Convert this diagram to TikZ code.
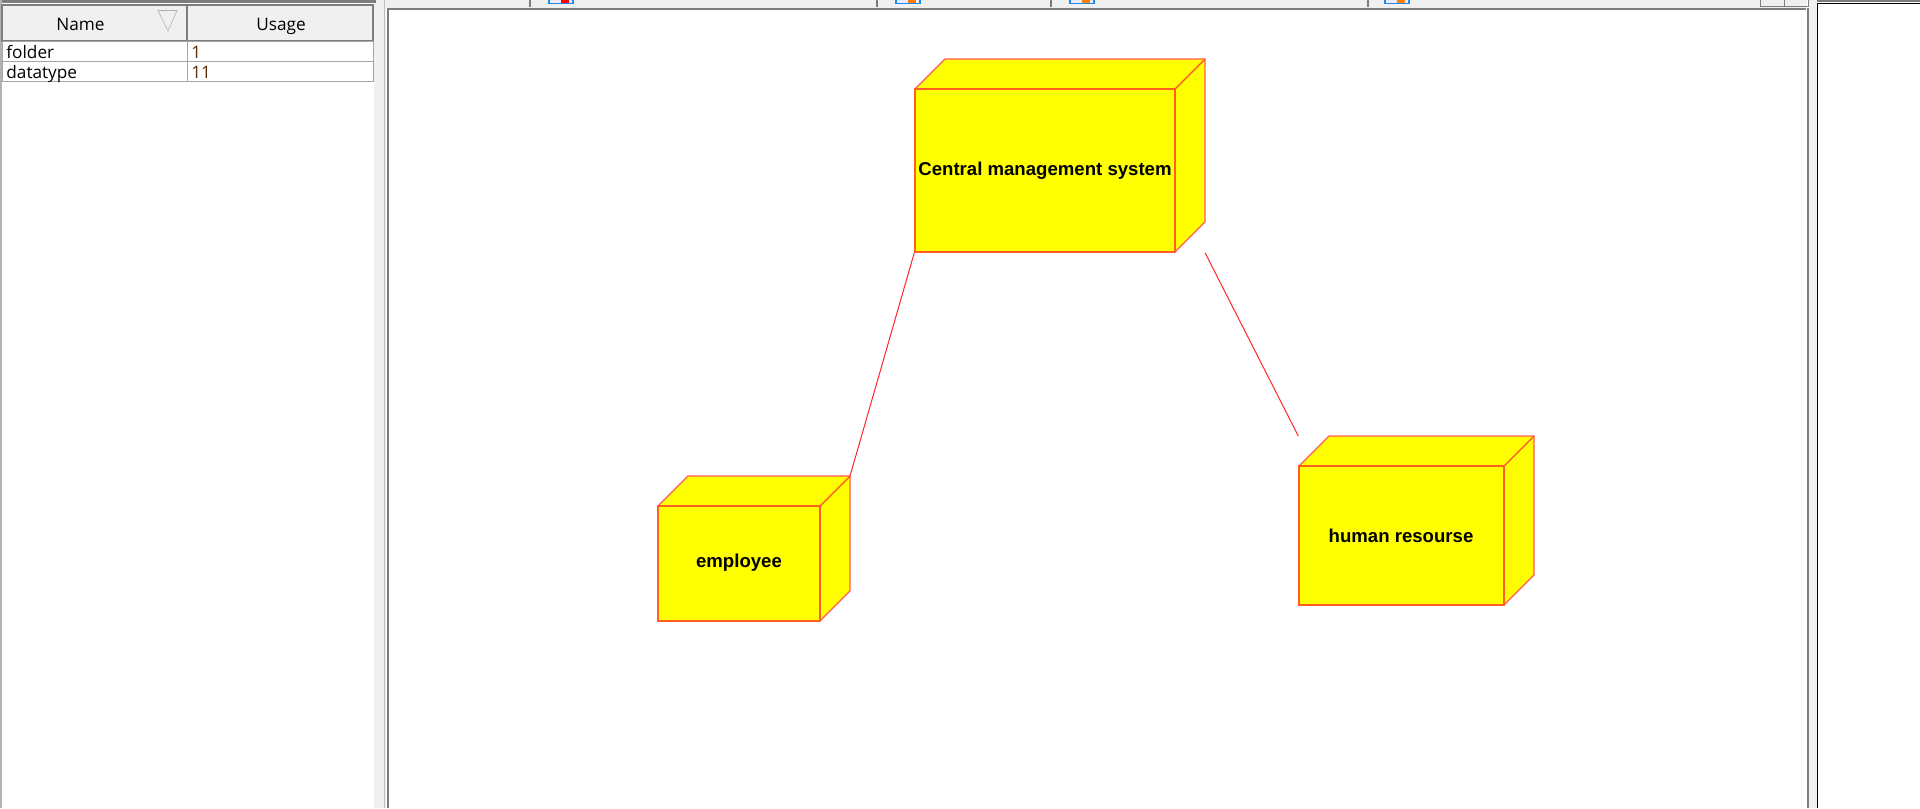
\documentclass[tikz,border=0pt]{standalone}
\usepackage{fontspec}
\setmainfont{Liberation Sans}
\newfontfamily\uifont{Open Sans}
\definecolor{nodered}{RGB}{255,40,40}
\definecolor{nodeorange}{RGB}{255,95,35}
\definecolor{nodecoral}{RGB}{255,90,90}
\definecolor{nodeyellow}{RGB}{255,255,0}
\definecolor{chromegray}{RGB}{240,240,240}
\definecolor{edgegray}{RGB}{125,125,125}
\definecolor{countbrown}{RGB}{90,45,10}
\definecolor{iconblue}{RGB}{30,140,230}
\tikzset{
  nodeface/.style={draw=nodeorange,fill=nodeyellow,line width=0.7pt,inner sep=0pt},
  nodeside/.style={draw=nodecoral,fill=nodeyellow,line width=0.6pt,line join=round},
  nodelink/.style={draw=nodered,line width=0.5pt},
  nodelabel/.style={font=\bfseries\fontsize{9.3}{11}\selectfont},
  headcell/.style={draw=edgegray,fill=chromegray,line width=0.6pt,inner sep=0pt,text height=8pt,text depth=0.3pt,font=\uifont\fontsize{8.6}{10}\selectfont},
  rowcell/.style={draw=gray!70,fill=white,line width=0.4pt,inner xsep=2pt,inner ysep=0pt,anchor=west,align=left,text height=8pt,text depth=0pt,font=\uifont\fontsize{8.6}{10}\selectfont},
  tabicon/.style={draw=iconblue,fill=blue!8,line width=0.6pt},
}
% front face, then top and side, depth 30px
\newcommand{\depthbox}[5]{%
  \coordinate (#1 back) at (#2+#4/2+30,#3-#5/2-30);
  \path[nodeside] (#2-#4/2,#3-#5/2) -- ++(30,-30) -- (#1 back) -- ++(0,#5) -- ++(-30,30) -- (#2+#4/2,#3-#5/2) -- cycle;
  \node[nodeface,minimum width=#4*0.5pt,minimum height=#5*0.5pt] (#1) at (#2,#3) {};
  \draw[nodeface,fill=none] (#1.north east) -- (#1 back);
}
\begin{document}
\begin{tikzpicture}[x=0.5pt,y=-0.5pt]
\useasboundingbox (0,0) rectangle (1920,808);
\fill[white] (0,0) rectangle (1920,808);
% chrome
\fill[chromegray] (374,0) rectangle (1807,8);
\fill[chromegray] (374,0) rectangle (386,808);
\fill[chromegray] (1809,0) rectangle (1817,808);
\fill[edgegray] (0,0) rectangle (376,3);
\fill[edgegray] (1817,0) rectangle (1920,2.5);
\fill[gray!60] (0,0) rectangle (2,808);
\draw[gray!50,line width=0.5pt] (384.5,0) -- (384.5,808);
\draw[edgegray,line width=1pt] (388,8) -- (388,808);
\draw[edgegray,line width=1pt] (388,9) -- (1806,9);
\draw[edgegray,line width=1pt] (1808,8) -- (1808,808);
\draw[black,line width=0.8pt] (1817.5,3) -- (1817.5,808);
\draw[black,line width=0.8pt] (1817.5,3.5) -- (1920,3.5);
\foreach \tabx in {530,877,1051,1368} \draw[edgegray,line width=0.7pt] (\tabx,0) -- (\tabx,7);
\foreach \tabx/\tabred in {549/red,896/orange,1070/orange,1385/orange} {
  \draw[tabicon] (\tabx,-2) rectangle ++(24,5.5);
  \fill[\tabred] (\tabx+12,0) rectangle ++(8,3);
}
\draw[edgegray,line width=0.4pt] (1760,-2) rectangle (1784,6);
\draw[edgegray,line width=0.4pt] (1784,-2) rectangle (1808,6);
% table
\node[headcell,minimum width=185*0.5pt,minimum height=36*0.5pt] (namehead) at (94.5,23) {Name\hspace{14pt}\mbox{}};
\node[headcell,minimum width=186*0.5pt,minimum height=36*0.5pt] (usagehead) at (280,23) {\hspace{1pt}Usage};
\draw[edgegray!60,line width=0.3pt] (158,10.5) -- (177,10.5) -- (168,31) -- cycle;
\node[rowcell,text width=177*0.5pt,minimum height=20*0.5pt] (folderrow) at (2,51) {folder};
\node[rowcell,text width=178*0.5pt,minimum height=20*0.5pt,text=countbrown] (foldercount) at (187,51) {1};
\node[rowcell,text width=177*0.5pt,minimum height=20*0.5pt] (datatyperow) at (2,71) {datatype};
\node[rowcell,text width=178*0.5pt,minimum height=20*0.5pt,text=countbrown] (datatypecount) at (187,71) {11};
% deployment nodes
\depthbox{central}{1045}{170.5}{260}{163}
\depthbox{employee}{739}{563.5}{162}{115}
\depthbox{human}{1401.5}{535.5}{205}{139}
\node[nodelabel] (centrallabel) at (1045,171) {Central management system};
\node[nodelabel] (employeelabel) at (739,563) {employee};
\node[nodelabel] (humanlabel) at (1401,536) {human resourse};
\coordinate (humanend) at (human.north west |- human back);
\draw[nodelink] (central.south west) -- (employee back);
\draw[nodelink] (central back |- central.south) -- (humanend);
\end{tikzpicture}
\end{document}
